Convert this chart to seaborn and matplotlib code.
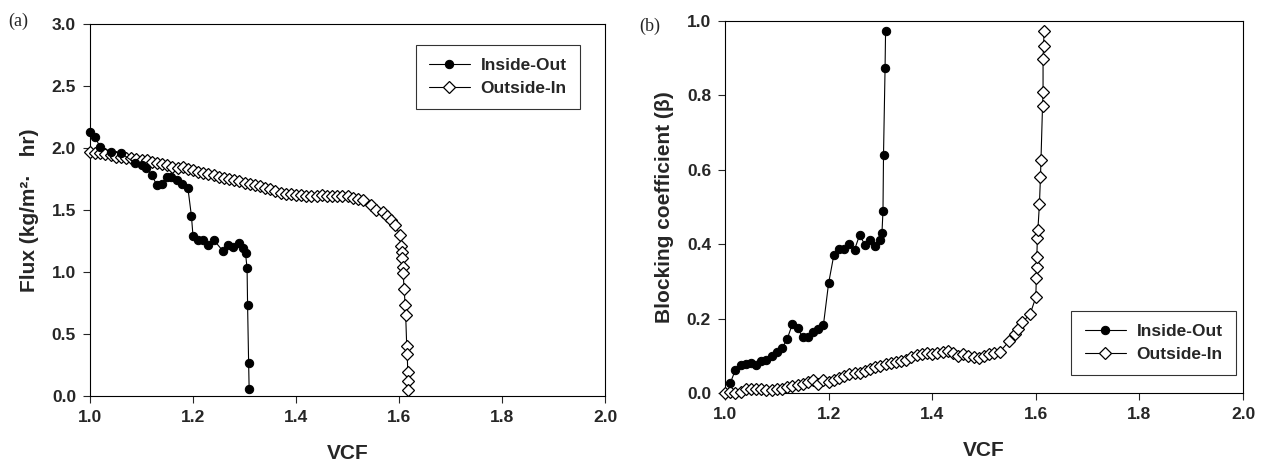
import pandas as pd
import seaborn as sns
import matplotlib.pyplot as plt

# (a) flux vs VCF
flux_in_vcf = [1.000, 1.010, 1.019, 1.040, 1.060, 1.087, 1.100, 1.108, 1.120, 1.130,
               1.140, 1.149, 1.158, 1.168, 1.178, 1.190, 1.197, 1.200, 1.210, 1.220,
               1.230, 1.240, 1.258, 1.268, 1.278, 1.290, 1.297, 1.302, 1.305, 1.306,
               1.308, 1.309]
flux_in = [2.13, 2.09, 2.01, 1.97, 1.96, 1.88, 1.86, 1.84, 1.78, 1.70,
           1.71, 1.77, 1.77, 1.74, 1.71, 1.68, 1.45, 1.29, 1.26, 1.26,
           1.22, 1.26, 1.17, 1.22, 1.20, 1.23, 1.19, 1.15, 1.03, 0.73,
           0.27, 0.06]

flux_out_vcf = [1.00, 1.01, 1.02, 1.03, 1.04, 1.05, 1.06, 1.07, 1.08, 1.09,
                1.10, 1.11, 1.12, 1.13, 1.14, 1.15, 1.16, 1.17, 1.18, 1.19,
                1.20, 1.21, 1.22, 1.23, 1.24, 1.25, 1.26, 1.27, 1.28, 1.29,
                1.30, 1.31, 1.32, 1.33, 1.34, 1.35, 1.36, 1.37, 1.38, 1.39,
                1.40, 1.41, 1.42, 1.43, 1.44, 1.45, 1.46, 1.47, 1.48, 1.49,
                1.50, 1.51, 1.52, 1.53, 1.545, 1.556, 1.568, 1.576, 1.585, 1.592,
                1.602, 1.604, 1.605, 1.606, 1.607, 1.608, 1.610, 1.612, 1.613, 1.615,
                1.616, 1.617, 1.617, 1.617]
flux_out = [1.97, 1.96, 1.96, 1.95, 1.94, 1.93, 1.93, 1.92, 1.92, 1.91,
            1.90, 1.90, 1.89, 1.88, 1.87, 1.86, 1.85, 1.84, 1.85, 1.83,
            1.82, 1.81, 1.80, 1.79, 1.78, 1.77, 1.76, 1.75, 1.74, 1.73,
            1.72, 1.71, 1.70, 1.69, 1.68, 1.67, 1.65, 1.64, 1.63, 1.63,
            1.62, 1.62, 1.61, 1.61, 1.61, 1.62, 1.61, 1.61, 1.61, 1.61,
            1.61, 1.60, 1.59, 1.58, 1.54, 1.50, 1.48, 1.45, 1.42, 1.38,
            1.30, 1.21, 1.16, 1.11, 1.04, 0.99, 0.86, 0.73, 0.65, 0.40,
            0.34, 0.19, 0.12, 0.05]

# (b) blocking coefficient vs VCF
beta_in_vcf = [1.01, 1.02, 1.03, 1.04, 1.05, 1.06, 1.07, 1.08, 1.09, 1.10,
               1.11, 1.12, 1.13, 1.14, 1.15, 1.16, 1.17, 1.18, 1.19, 1.20,
               1.21, 1.22, 1.23, 1.24, 1.25, 1.26, 1.27, 1.28, 1.29, 1.30,
               1.303, 1.305, 1.306, 1.309, 1.310]
beta_in = [0.026, 0.062, 0.075, 0.079, 0.080, 0.075, 0.085, 0.088, 0.100, 0.110,
           0.120, 0.145, 0.185, 0.175, 0.150, 0.150, 0.165, 0.172, 0.183, 0.295,
           0.370, 0.387, 0.387, 0.400, 0.385, 0.425, 0.398, 0.410, 0.395, 0.410,
           0.430, 0.490, 0.640, 0.873, 0.974]

beta_out_vcf = [1.00, 1.01, 1.02, 1.03, 1.04, 1.05, 1.06, 1.07, 1.08, 1.09,
                1.10, 1.11, 1.12, 1.13, 1.14, 1.15, 1.16, 1.17, 1.18, 1.19,
                1.20, 1.21, 1.22, 1.23, 1.24, 1.25, 1.26, 1.27, 1.28, 1.29,
                1.30, 1.31, 1.32, 1.33, 1.34, 1.35, 1.36, 1.37, 1.38, 1.39,
                1.40, 1.41, 1.42, 1.43, 1.44, 1.45, 1.46, 1.47, 1.48, 1.49,
                1.50, 1.51, 1.52, 1.53, 1.549, 1.559, 1.565, 1.574, 1.589, 1.600,
                1.601, 1.602, 1.602, 1.603, 1.604, 1.607, 1.609, 1.610, 1.613, 1.614,
                1.614, 1.615, 1.616]
beta_out = [0.000, 0.002, 0.000, 0.003, 0.010, 0.012, 0.012, 0.012, 0.008, 0.008,
            0.010, 0.012, 0.015, 0.020, 0.022, 0.025, 0.030, 0.035, 0.025, 0.035,
            0.030, 0.035, 0.040, 0.045, 0.050, 0.055, 0.055, 0.060, 0.065, 0.070,
            0.072, 0.078, 0.080, 0.082, 0.085, 0.090, 0.098, 0.102, 0.105, 0.108,
            0.105, 0.108, 0.110, 0.112, 0.108, 0.100, 0.105, 0.100, 0.098, 0.095,
            0.100, 0.105, 0.108, 0.110, 0.140, 0.158, 0.172, 0.190, 0.212, 0.257,
            0.308, 0.338, 0.365, 0.416, 0.438, 0.508, 0.580, 0.627, 0.772, 0.808,
            0.898, 0.934, 0.974]

LABELS = ["Inside-Out", "Outside-In"]


def make_frame(x_in, y_in, x_out, y_out):
    a = pd.DataFrame({"vcf": x_in, "val": y_in, "mode": LABELS[0]})
    b = pd.DataFrame({"vcf": x_out, "val": y_out, "mode": LABELS[1]})
    return pd.concat([a, b], ignore_index=True)


def draw_panel(ax, df, ylim, yticks, ylabel, legend_loc, bbox):
    sns.lineplot(data=df, x="vcf", y="val", hue="mode", style="mode",
                 markers={LABELS[0]: "o", LABELS[1]: "D"}, dashes=False,
                 palette={LABELS[0]: "black", LABELS[1]: "black"},
                 sort=False, estimator=None, ax=ax, linewidth=0.8,
                 markersize=6, clip_on=False, legend=False)
    lines = ax.get_lines()
    lines[0].set_markerfacecolor("black")
    lines[0].set_markeredgecolor("black")
    lines[1].set_markerfacecolor("white")
    lines[1].set_markeredgecolor("black")
    lines[1].set_markeredgewidth(0.9)
    lines[1].set_markersize(6.5)
    lines[1].set_zorder(3)
    lines[0].set_zorder(4)

    ax.set_xlim(1.0, 2.0)
    ax.set_ylim(*ylim)
    ax.set_xticks([1.0, 1.2, 1.4, 1.6, 1.8, 2.0])
    ax.set_yticks(yticks)
    ax.xaxis.set_major_formatter(plt.FormatStrFormatter("%.1f"))
    ax.yaxis.set_major_formatter(plt.FormatStrFormatter("%.1f"))
    ax.tick_params(direction="out", length=5, width=0.8, labelsize=12.5, pad=5)
    for lab in ax.get_xticklabels() + ax.get_yticklabels():
        lab.set_fontweight("bold")
    for sp in ax.spines.values():
        sp.set_linewidth(0.8)
        sp.set_color("black")
    ax.set_xlabel("VCF", fontsize=15, fontweight="bold", labelpad=14)
    ax.set_ylabel(ylabel, fontsize=15, fontweight="bold", labelpad=9)

    leg = ax.legend(handles=lines, labels=LABELS, loc=legend_loc,
                    bbox_to_anchor=bbox, frameon=True, fancybox=False,
                    prop={"weight": "bold", "size": 12.5}, handlelength=2.4,
                    handletextpad=0.6, borderpad=0.75, labelspacing=0.45,
                    borderaxespad=0)
    leg.get_frame().set_edgecolor("black")
    leg.get_frame().set_linewidth(0.8)


sns.set_theme(style="ticks")
plt.rcParams["font.family"] = ["Liberation Sans", "DejaVu Sans"]

fig = plt.figure(figsize=(12.61, 4.65), dpi=100)
ax1 = fig.add_axes([90 / 1261, 1 - 396 / 465, 515 / 1261, 372 / 465])
ax2 = fig.add_axes([725 / 1261, 1 - 393 / 465, 518 / 1261, 372 / 465])

df_flux = make_frame(flux_in_vcf, flux_in, flux_out_vcf, flux_out)
df_beta = make_frame(beta_in_vcf, beta_in, beta_out_vcf, beta_out)

draw_panel(ax1, df_flux, (0, 3.0), [0, 0.5, 1.0, 1.5, 2.0, 2.5, 3.0],
           "Flux (kg/m²·   hr)", "upper right", (0.951, 0.944))
draw_panel(ax2, df_beta, (0, 1.0), [0, 0.2, 0.4, 0.6, 0.8, 1.0],
           "Blocking coefficient (β)", "lower right", (0.986, 0.048))

fig.text(18 / 1261, 1 - 21 / 465, "(a)", family="Liberation Serif", fontsize=13,
         ha="center", va="center")
fig.text(650 / 1261, 1 - 26 / 465, "(b)", family="Liberation Serif", fontsize=13,
         ha="center", va="center")

fig.savefig("out.png", dpi=100)
